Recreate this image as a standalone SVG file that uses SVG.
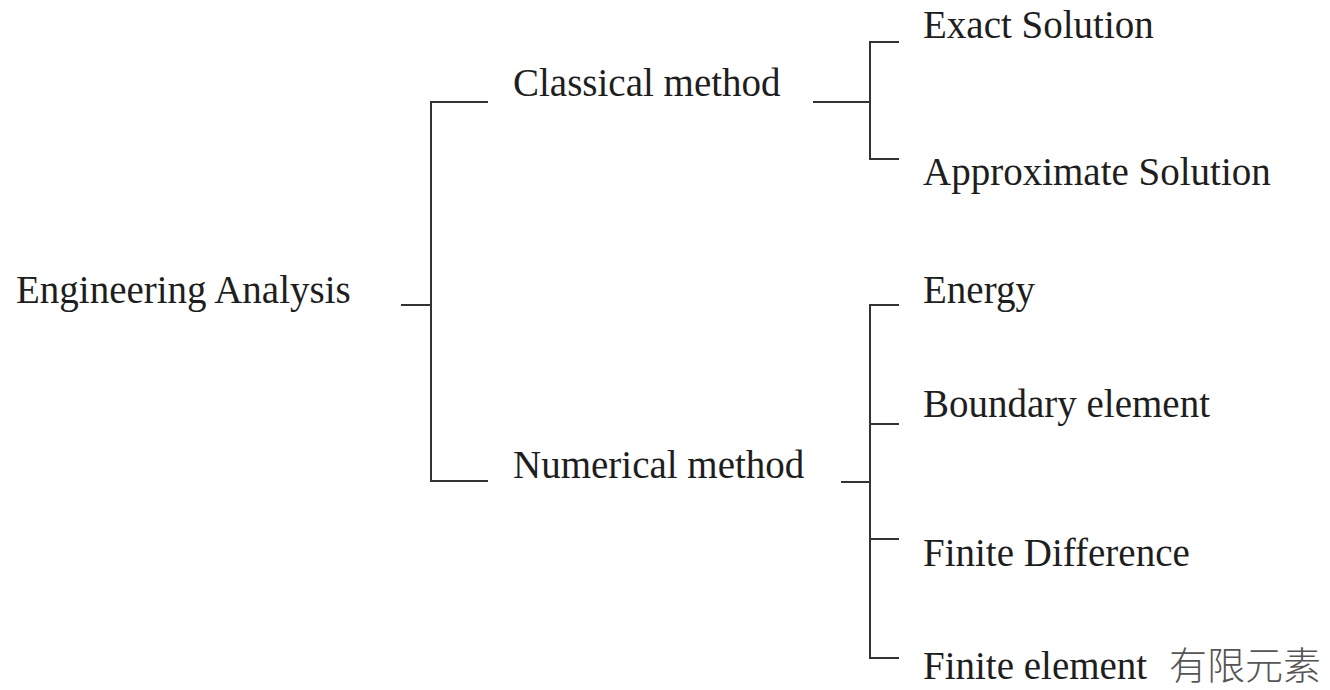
<svg xmlns="http://www.w3.org/2000/svg" width="1330" height="690" viewBox="0 0 1330 690">
<style>
text{font-family:"Liberation Serif","Times New Roman",serif;font-size:39px;fill:#1e1e1e}
.cjk{font-family:"Noto Sans CJK TC","Noto Sans CJK SC",sans-serif;font-size:38px;font-weight:300;fill:#555}
#connectors path{fill:none;stroke:#333;stroke-width:2}
</style>
<rect width="1330" height="690" fill="#fff"/>
<g id="connectors">
<path d="M401 305H431M488 102H431V481H488"/>
<path d="M813 102H870M899 42H870V159H899"/>
<path d="M841 482H870M899 305H870V658H899M870 424H899M870 539H899"/>
</g>
<g id="engineering-analysis"><text x="16" y="303">Engineering Analysis</text></g>
<g id="classical-method"><text x="513" y="96">Classical method</text></g>
<g id="numerical-method"><text x="513" y="478">Numerical method</text></g>
<g id="exact-solution"><text x="923" y="38">Exact Solution</text></g>
<g id="approximate-solution"><text x="923" y="185">Approximate Solution</text></g>
<g id="energy"><text x="923" y="303">Energy</text></g>
<g id="boundary-element"><text x="923" y="417">Boundary element</text></g>
<g id="finite-difference"><text x="923" y="566">Finite Difference</text></g>
<g id="finite-element"><text x="923" y="679">Finite element <tspan class="cjk" dx="12">有限元素</tspan></text></g>
</svg>
